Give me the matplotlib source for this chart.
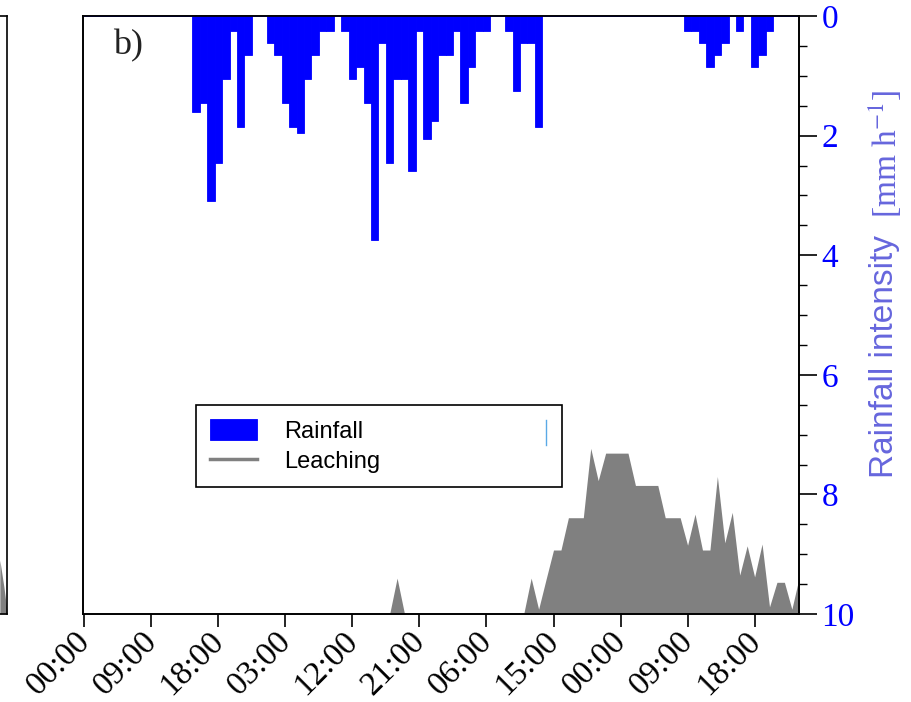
import matplotlib
matplotlib.use("Agg")
import matplotlib.pyplot as plt
from matplotlib.lines import Line2D
from matplotlib.ticker import MultipleLocator
from matplotlib.transforms import ScaledTranslation, blended_transform_factory
import numpy as np

plt.rcParams['font.family'] = ['Liberation Serif', 'DejaVu Serif']
plt.rcParams['mathtext.fontset'] = 'stix'

# hourly time axis (hours since start)
hours = np.arange(97)

# rainfall intensity [mm h-1], one value per hour
rain = [0] * 97
rain_read = {15: 1.6, 16: 1.45, 17: 3.1, 18: 2.45, 19: 1.05, 20: 0.25, 21: 1.85, 22: 0.65,
             25: 0.45, 26: 0.65, 27: 1.45, 28: 1.85, 29: 1.95, 30: 1.05, 31: 0.65, 32: 0.25,
             33: 0.25, 35: 0.25, 36: 1.05, 37: 0.85, 38: 1.45, 39: 3.75, 40: 0.45, 41: 2.45,
             42: 1.05, 43: 1.05, 44: 2.6, 45: 0.25, 46: 2.05, 47: 1.75, 48: 0.65, 49: 0.65,
             50: 0.25, 51: 1.45, 52: 0.85, 53: 0.25, 54: 0.25, 57: 0.25, 58: 1.25, 59: 0.45,
             60: 0.45, 61: 1.85, 81: 0.25, 82: 0.25, 83: 0.45, 84: 0.85, 85: 0.65, 86: 0.45,
             88: 0.25, 90: 0.85, 91: 0.65, 92: 0.25}
for h, v in rain_read.items():
    rain[h] = v

# leaching (relative, drawn from the bottom)
leach = [0] * 97
leach_read = {42: 0.6, 60: 0.6, 61: 0.08, 62: 0.58, 63: 1.07, 64: 1.07, 65: 1.61, 66: 1.61,
              67: 1.61, 68: 2.77, 69: 2.23, 70: 2.69, 71: 2.69, 72: 2.69, 73: 2.69, 74: 2.15,
              75: 2.15, 76: 2.15, 77: 2.15, 78: 1.61, 79: 1.61, 80: 1.61, 81: 1.15, 82: 1.67,
              83: 1.07, 84: 1.07, 85: 2.30, 86: 1.19, 87: 1.70, 88: 0.65, 89: 1.14, 90: 0.62,
              91: 1.17, 92: 0.12, 93: 0.53, 94: 0.53, 95: 0.08, 96: 0.62}
for h, v in leach_read.items():
    leach[h] = v

# tail of the neighbouring panel a) that is cut off on the left
panel_a_hours = [89, 93, 96]
panel_a_leach = [0.9, 0.45, 0.05]

tick_hours = list(range(0, 91, 9))
tick_labels = ['00:00', '09:00', '18:00', '03:00', '12:00', '21:00',
               '06:00', '15:00', '00:00', '09:00', '18:00']

W, H = 912, 702
fig = plt.figure(figsize=(W / 100, H / 100), dpi=100)
ax = fig.add_axes([83.3 / W, 1 - 614 / H, 716 / W, 598 / H])

# leaching on the (hidden) left axis
ax.fill_between(hours, leach, 0, color='#808080', lw=0)
ax.set_ylim(0, 10)
ax.set_xlim(-0.13, 96)
ax.set_yticks([])
ax.set_xticks(tick_hours)
ax.set_xticklabels([])
ax.tick_params(axis='x', direction='out', length=9, width=1.2)
for s in ax.spines.values():
    s.set_linewidth(1.2)

# rotated time labels, nudged a little left/up from the tick ends
trans = blended_transform_factory(ax.transData, ax.transAxes)
trans = trans + ScaledTranslation(-0.10, -0.12, fig.dpi_scale_trans)
for h, lab in zip(tick_hours, tick_labels):
    ax.text(h, 0, lab, transform=trans, rotation=45, ha='right', va='top',
            rotation_mode='anchor', fontsize=24, color='black')

# rainfall on the inverted right axis
ax2 = ax.twinx()
bars = ax2.bar(hours, rain, width=1.0, color='blue', edgecolor='blue', lw=0.6)
ax2.set_ylim(10, 0)
ax2.yaxis.set_major_locator(MultipleLocator(2))
ax2.yaxis.set_minor_locator(MultipleLocator(0.5))
ax2.tick_params(axis='y', which='major', direction='out', length=13, width=1.2,
                labelsize=24, labelcolor='blue', pad=3)
ax2.tick_params(axis='y', which='minor', direction='out', length=6, width=1.0)
for s in ax2.spines.values():
    s.set_linewidth(1.2)

ax.text(0.041, 0.978, 'b)', transform=ax.transAxes, fontsize=26,
        va='top', ha='left', color='#222222')

lab_col = '#6666dd'
fig.text(885 / W, 1 - 478 / H, 'Rainfall intensity', rotation=90, ha='center',
         va='bottom', fontsize=24, family='Liberation Sans', color=lab_col)
fig.text(885 / W, 1 - 218 / H, r'[mm h$^{-1}$]', rotation=90, ha='center',
         va='bottom', fontsize=24, color=lab_col)

leach_handle = Line2D([], [], color='#808080', lw=2.5)
leg = ax2.legend([bars, leach_handle], ['Rainfall', 'Leaching'],
                 loc='upper left', bbox_to_anchor=(0.1574, 0.2107, 0.511, 0.1388),
                 mode='expand', borderaxespad=0, prop={'family': 'Liberation Sans', 'size': 17},
                 frameon=True, fancybox=False, framealpha=1, edgecolor='black',
                 borderpad=0.6, labelspacing=0.27, handlelength=2.0, handleheight=1.0,
                 handletextpad=1.15)
leg.get_frame().set_linewidth(1.2)
ax2.plot([0.646, 0.646], [0.2826, 0.3244], transform=ax2.transAxes, color='#5aa9e6',
         lw=1, zorder=10, clip_on=False)

# cut-off panel a)
axa = fig.add_axes([-0.1, 1 - 614 / H, 0.1 + 7 / W, 598 / H])
axa.fill_between(panel_a_hours, panel_a_leach, 0, color='#808080', lw=0)
axa.set_xlim(0, 96)
axa.set_ylim(0, 10)
axa.set_xticks([])
axa.set_yticks([])
for s in axa.spines.values():
    s.set_linewidth(1.2)

fig.savefig('out.png', dpi=100)
